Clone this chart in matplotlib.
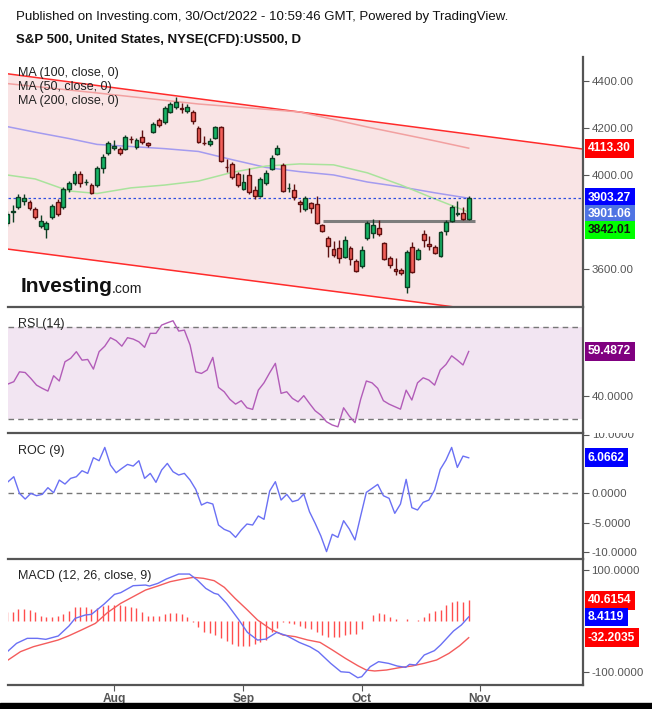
import numpy as np
import matplotlib
matplotlib.use("Agg")
import matplotlib.pyplot as plt
from matplotlib.transforms import blended_transform_factory, Bbox, TransformedBbox
from matplotlib.patches import Rectangle

plt.rcParams['font.family'] = ['Liberation Sans', 'DejaVu Sans']

# ---- daily candles (bar index 0..82, last = 28 Oct 2022) ----
opens = [3796, 3843, 3864, 3889, 3885, 3855, 3783, 3770, 3821, 3885,
         3864, 3940, 3966, 4004, 3970, 3957, 3957, 4030, 4094, 4115,
         4111, 4111, 4154, 4119, 4162, 4136, 4183, 4234, 4226, 4268,
         4289, 4283, 4272, 4268, 4200, 4137, 4132, 4157, 4204, 4035,
         4047, 4004, 3940, 4000, 3936, 3911, 3966, 4026, 4089, 4043,
         3944, 3936, 3885, 3855, 3881, 3877, 3787, 3732, 3685, 3689,
         3651, 3689, 3634, 3613, 3732, 3753, 3774, 3711, 3647, 3600,
         3596, 3523, 3694, 3643, 3749, 3706, 3694, 3655, 3762, 3804,
         3832, 3838, 3813]
closes = [3834, 3847, 3906, 3902, 3860, 3821, 3804, 3796, 3868, 3834,
          3940, 3966, 4004, 3966, 3971, 3923, 4030, 4077, 4136, 4123,
          4094, 4162, 4152, 4149, 4140, 4128, 4217, 4213, 4285, 4302,
          4311, 4280, 4289, 4230, 4140, 4135, 4145, 4204, 4060, 4033,
          3991, 3957, 3970, 3928, 3911, 3983, 4009, 4072, 4115, 3932,
          3946, 3906, 3877, 3902, 3860, 3796, 3762, 3698, 3660, 3647,
          3723, 3643, 3592, 3681, 3796, 3787, 3749, 3643, 3617, 3592,
          3583, 3672, 3587, 3681, 3723, 3698, 3668, 3757, 3800, 3864,
          3836, 3813, 3902]
highs = [3847, 3872, 3919, 3919, 3894, 3864, 3830, 3804, 3877, 3898,
         3949, 3974, 4017, 4017, 3983, 3966, 4038, 4089, 4145, 4149,
         4119, 4170, 4166, 4157, 4191, 4140, 4226, 4243, 4294, 4311,
         4332, 4306, 4302, 4277, 4208, 4166, 4157, 4208, 4208, 4068,
         4055, 4013, 4004, 4030, 3953, 3991, 4021, 4085, 4128, 4051,
         3966, 3962, 3894, 3911, 3885, 3911, 3791, 3740, 3719, 3723,
         3740, 3698, 3643, 3698, 3804, 3813, 3809, 3715, 3655, 3647,
         3604, 3681, 3715, 3689, 3766, 3740, 3702, 3762, 3809, 3872,
         3889, 3864, 3911]
lows = [3783, 3800, 3855, 3872, 3851, 3813, 3774, 3732, 3813, 3826,
        3855, 3928, 3957, 3949, 3957, 3919, 3949, 4009, 4085, 4106,
        4085, 4106, 4136, 4111, 4132, 4119, 4179, 4204, 4217, 4264,
        4281, 4264, 4264, 4217, 4136, 4128, 4123, 4153, 4055, 4013,
        3983, 3949, 3936, 3919, 3898, 3906, 3957, 4021, 4085, 3928,
        3928, 3894, 3843, 3847, 3838, 3791, 3757, 3651, 3651, 3626,
        3647, 3617, 3587, 3604, 3723, 3732, 3740, 3638, 3604, 3575,
        3575, 3498, 3583, 3638, 3694, 3681, 3664, 3651, 3745, 3800,
        3826, 3809, 3809]

# moving averages, read at sampled bars
ma_idx = [0, 5, 11, 16, 22, 28, 34, 40, 46, 52, 58, 64, 70, 76, 82]
ma100 = [4206, 4182, 4155, 4130, 4121, 4112, 4100, 4065, 4032, 4014, 4000, 3970, 3949, 3924, 3901]
ma50 = [4000, 3983, 3932, 3921, 3945, 3957, 3974, 4011, 4038, 4047, 4043, 4009, 3957, 3898, 3842]
ma200_idx = [0, 16, 34, 52, 64, 76, 82]
ma200 = [4389, 4349, 4302, 4268, 4204, 4145, 4114]

# trend channel (two end points each)
chan_x = [-1, 103]
chan_hi = [4434, 4108]
chan_lo = [3688, 3365]
neckline_x = [56.1, 83.1]
neckline = 3805

rsi = [45.3, 46.3, 50.6, 50.3, 47.7, 44.8, 43.4, 42.2, 48.9, 46.6,
       55.0, 56.5, 59.4, 55.7, 56.0, 51.8, 59.4, 61.8, 65.5, 64.2,
       61.8, 65.5, 64.9, 63.7, 61.3, 67.4, 67.4, 71.0, 72.0, 72.9,
       68.4, 68.8, 62.3, 50.6, 49.9, 51.4, 56.9, 43.8, 41.9, 38.6,
       36.5, 38.0, 34.9, 34.2, 42.6, 45.8, 50.2, 54.3, 41.2, 41.9,
       39.0, 37.5, 40.2, 36.8, 33.6, 31.7, 28.8, 27.4, 26.6, 34.9,
       31.3, 28.4, 38.6, 46.6, 45.8, 43.4, 38.0, 36.5, 35.4, 34.3,
       42.6, 38.3, 45.8, 48.0, 47.0, 44.8, 51.4, 53.8, 57.6, 55.7,
       53.6, 59.49]

roc = [1.99, 2.84, 0.0, -0.97, 0.0, -0.40, -0.17, 0.97, 0.11, 2.27,
       1.59, 2.56, 2.84, 3.86, 3.41, 6.08, 5.57, 7.84, 4.83, 3.52,
       4.26, 4.94, 4.66, 5.57, 2.56, 3.41, 1.88, 3.98, 5.11, 3.69,
       3.13, 3.41, 2.27, 0.68, -1.99, -1.53, -1.82, -5.40, -6.14, -6.53,
       -7.50, -6.25, -5.23, -5.40, -3.86, -4.43, 0.40, 1.99, -1.14, -0.17,
       -1.42, -1.14, -0.11, -3.13, -5.11, -7.27, -9.94, -6.99, -7.50, -4.66,
       -6.08, -7.95, -3.86, 0.17, 0.85, 1.53, -0.40, -0.85, -3.41, -1.82,
       2.39, -2.44, -2.84, -1.53, -1.14, 0.57, 4.09, 5.68, 7.84, 4.43,
       6.36, 6.07]

macd_x = [0.2, 1.7, 3.6, 5.4, 6.9, 9.1, 11.0, 12.1, 13.9, 15.0,
          17.2, 19.1, 20.2, 22.4, 24.6, 25.3, 26.8, 28.3, 30.5, 32.4,
          33.8, 35.3, 36.8, 37.5, 39.0, 41.2, 42.7, 44.5, 46.0, 47.9,
          49.7, 51.9, 53.8, 55.3, 57.5, 59.3, 60.8, 62.3, 63.0, 64.5,
          66.0, 67.8, 69.3, 70.8, 71.5, 72.6, 74.1, 75.9, 77.0, 79.3,
          80.7, 82.0]
macd = [-58.2, -43.3, -33.5, -33.5, -35.4, -28.9, -9.4, 5.6, 12.1, 13.4,
        33.0, 52.5, 55.8, 69.4, 70.7, 68.8, 74.0, 82.5, 92.2, 92.2,
        80.5, 64.2, 54.5, 52.5, 34.9, 2.3, -21.8, -36.9, -34.9, -21.8,
        -28.4, -41.4, -49.9, -59.7, -82.5, -98.8, -100.1, -110.5, -108.5, -89.0,
        -79.1, -82.5, -87.6, -90.2, -84.3, -85.6, -66.1, -57.6, -46.5, -19.2,
        -7.4, 8.41]
signal_x = [0.2, 2.4, 4.7, 6.9, 9.1, 10.9, 13.2, 15.7, 17.9, 20.2,
            22.4, 24.6, 26.8, 29.0, 31.3, 33.1, 34.9, 36.8, 38.6, 40.5,
            42.7, 44.5, 46.8, 49.0, 51.2, 53.4, 55.6, 57.8, 60.1, 62.3,
            63.8, 65.3, 67.4, 69.7, 71.9, 74.1, 76.3, 78.5, 80.4, 82.0]
signal = [-75.8, -59.5, -49.8, -43.3, -36.7, -28.9, -17.3, -4.2, 17.3, 34.9,
          47.9, 60.9, 68.8, 77.3, 82.5, 85.7, 83.8, 79.2, 66.2, 44.7,
          21.9, 2.3, -15.3, -27.0, -30.2, -36.7, -41.4, -56.3, -72.6, -86.9,
          -95.4, -97.3, -95.4, -90.8, -87.6, -82.3, -75.8, -62.8, -47.8, -32.2]
hist = [17.3, 18.6, 23.2, 23.2, 21.9, 17.3, 10.2, 8.9, 8.9, 10.8,
        13.4, 19.9, 27.1, 27.1, 27.1, 23.8, 25.1, 30.4, 31.7, 31.7,
        31.7, 29.7, 27.1, 25.1, 17.3, 10.8, 10.8, 10.2, 14.1, 16.7,
        15.4, 13.4, 8.9, -0.9, -10.7, -20.5, -23.7, -27.0, -33.5, -38.7,
        -45.2, -47.8, -47.8, -47.8, -45.2, -40.0, -36.7, -20.5, -14.0, -0.9,
        -2.9, -6.1, -8.7, -12.6, -15.2, -21.8, -27.0, -30.2, -31.5, -30.2,
        -27.0, -25.7, -25.7, -15.2, 1.0, 12.1, 15.4, 13.4, 8.9, 4.3,
        1.0, 4.3, 1.0, 1.7, 8.9, 15.4, 19.9, 21.9, 31.7, 38.2,
        40.1, 38.2, 40.6]

month_pos = [19, 42, 63, 84]
month_lbl = ["Aug", "Sep", "Oct", "Nov"]

W, H = 652, 709
PX = 0.72  # points per pixel at dpi 100
AXC = '#555555'
GREEN, GREEN_E = '#16b566', '#0d3d22'
RED, RED_E = '#f2605a', '#5e1010'

fig = plt.figure(figsize=(W / 100, H / 100), dpi=100)


def px_axes(x0, y0, x1, y1, **kw):
    return fig.add_axes([x0 / W, 1 - y1 / H, (x1 - x0) / W, (y1 - y0) / H], **kw)


def ftext(x, y, s, size, **kw):
    return fig.text(x / W, 1 - y / H, s, fontsize=size * PX, va='center', ha='left', **kw)


def style(ax):
    ax.set_facecolor('none')
    for s in ('top', 'left'):
        ax.spines[s].set_visible(False)
    for s in ('bottom', 'right'):
        ax.spines[s].set_color(AXC)
        ax.spines[s].set_linewidth(1.6)
    ax.yaxis.tick_right()
    ax.tick_params(axis='y', length=4, color=AXC, labelcolor=AXC, labelsize=11.5 * PX, pad=2)
    ax.tick_params(axis='x', length=0, labelbottom=False)
    ax.set_xlim(0.18, 102.3)


def tag(ax, y, text, fc, tc='white', dy=0):
    tr = blended_transform_factory(ax.transAxes, ax.transData)
    ax.annotate(text, xy=(1, y), xycoords=tr, xytext=(5 * PX, -dy * PX),
                textcoords='offset points', ha='left', va='center',
                fontsize=12 * PX, fontweight='bold', color=tc, zorder=10,
                bbox=dict(boxstyle='square,pad=0.28', fc=fc, ec='none'),
                annotation_clip=False)


ax_p = px_axes(8, 57, 583, 307)
ax_r = px_axes(8, 307, 583, 433, sharex=ax_p)
ax_c = px_axes(8, 433, 583, 559, sharex=ax_p)
ax_m = px_axes(8, 559, 583, 685, sharex=ax_p)
for ax in (ax_p, ax_r, ax_c, ax_m):
    style(ax)

# ---- price panel ----
o, h, l, c = map(np.array, (opens, highs, lows, closes))
idx = np.arange(len(o))
up = c >= o
ax_p.fill_between(chan_x, chan_lo, chan_hi, color='#f9e4e5', lw=0, zorder=0)
ax_p.plot(chan_x, chan_hi, color='#ff2b2b', lw=1.1, zorder=1)
ax_p.plot(chan_x, chan_lo, color='#ff2b2b', lw=1.1, zorder=1)
ax_p.plot(ma200_idx, ma200, color='#f2a0a0', lw=1.1, zorder=1)
ax_p.plot(ma_idx, ma100, color='#a49bef', lw=1.1, zorder=1)
ax_p.plot(ma_idx, ma50, color='#a9e39c', lw=1.1, zorder=1)
ax_p.axhline(closes[-1], color='#3050e0', ls=(0, (2, 2)), lw=0.9, zorder=2)
ax_p.hlines(neckline, *neckline_x, color='#7d7d7d', lw=2.2, zorder=2)
edge = np.where(up, GREEN_E, RED_E)
ax_p.vlines(idx, l, h, colors=edge, lw=1, zorder=3)
ax_p.bar(idx, np.maximum(np.abs(c - o), 2), bottom=np.minimum(o, c), width=0.68,
         color=np.where(up, GREEN, RED), edgecolor=edge, lw=1, zorder=4)
ax_p.set_ylim(3438, 4502)
ax_p.set_yticks([3600, 4000, 4200, 4400])
ax_p.set_yticklabels([f"{v:.2f}" for v in [3600, 4000, 4200, 4400]])
tag(ax_p, 4113.30, "4113.30", '#ff0000')
tag(ax_p, 3903.27, "3903.27", '#0000ff')
tag(ax_p, 3901.06, "3901.06", '#4f74e3', dy=16)
tag(ax_p, 3842.01, "3842.01", '#00ff00', tc='#111111', dy=18)

# ---- RSI ----
rx = np.linspace(0.2, 82, len(rsi))
ax_r.axhspan(30, 70, color='#f2e5f2', lw=0, zorder=0)
for lvl in (30, 70):
    ax_r.axhline(lvl, color='#777777', ls=(0, (4, 3)), lw=1)
ax_r.plot(rx, rsi, color='#b25cb8', lw=1)
ax_r.set_ylim(23.9, 78.9)
ax_r.set_yticks([40])
ax_r.set_yticklabels(["40.0000"])
tag(ax_r, rsi[-1], "59.4872", '#800080')

# ---- ROC ----
cx = np.linspace(0.2, 82, len(roc))
ax_c.axhline(0, color='#777777', ls=(0, (4, 3)), lw=1)
ax_c.plot(cx, roc, color='#6a70f4', lw=1)
ax_c.set_ylim(-11.2, 10.3)
ax_c.set_yticks([-10, -5, 0, 10])
ax_c.set_yticklabels(["-10.0000", "-5.0000", "0.0000", ""])
tag(ax_c, roc[-1], "6.0662", '#0000ff')
t10 = ftext(592, 435, "10.0000", 11.5, color=AXC)
t10.set_clip_box(TransformedBbox(Bbox([[0, 0], [1, 1 - 433 / H]]), fig.transFigure))
t10.set_clip_on(True)

# ---- MACD ----
ax_m.vlines(idx, 0, hist, colors='#ff4d4d', lw=1, zorder=1)
ax_m.plot(signal_x, signal, color='#f45c5c', lw=1, zorder=2)
ax_m.plot(macd_x, macd, color='#6a70f4', lw=1, zorder=3)
ax_m.set_ylim(-124.7, 121.6)
ax_m.set_yticks([-100, 100])
ax_m.set_yticklabels(["-100.0000", "100.0000"])
tag(ax_m, 40.6154, "40.6154", '#ff0000')
tag(ax_m, 8.4119, "8.4119", '#0000ff')
tag(ax_m, -32.2035, "-32.2035", '#ff0000')
ax_m.set_xticks(month_pos)
ax_m.set_xticklabels(month_lbl)
ax_m.tick_params(axis='x', length=4, color=AXC, labelbottom=True, labelcolor=AXC,
                 labelsize=12 * PX, pad=1.5)
for lab in ax_m.get_xticklabels():
    lab.set_fontweight('bold')

# ---- texts ----
ftext(16, 17, "Published on Investing.com, 30/Oct/2022 - 10:59:46 GMT, Powered by TradingView.", 13.3,
      color='#111111')
ftext(16, 40, "S&P 500, United States, NYSE(CFD):US500, D", 13.3, color='#111111', fontweight='bold')
for k, s in enumerate(["MA (100, close, 0)", "MA (50, close, 0)", "MA (200, close, 0)"]):
    ftext(18, 73 + 14 * k, s, 12.5, color='#222222')
ftext(18, 324, "RSI (14)", 12.5, color='#222222')
ftext(18, 451, "ROC (9)", 12.5, color='#222222')
ftext(18, 576, "MACD (12, 26, close, 9)", 12.5, color='#222222')
ftext(21, 286, "Investing", 21, color='#111111', fontweight='bold')
ftext(112, 289, ".com", 14, color='#222222')

fig.patches.append(Rectangle((0, 0), 1, 6 / H, transform=fig.transFigure, color='black'))

fig.savefig("out.png", dpi=100, facecolor='white')
